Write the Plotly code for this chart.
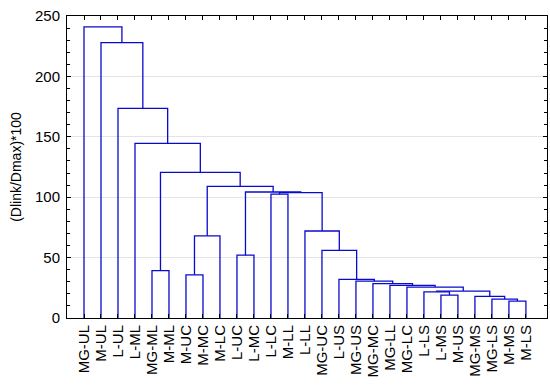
import plotly.graph_objects as go

# Leaf labels in dendrogram order
labels = ["MG-UL", "M-UL", "L-UL", "L-ML", "MG-ML", "M-ML", "M-UC", "M-MC", "M-LC",
          "L-UC", "L-MC", "L-LC", "M-LL", "L-LL", "MG-UC", "L-US", "MG-US", "MG-MC",
          "MG-LL", "MG-LC", "L-LS", "L-MS", "M-US", "MG-MS", "MG-LS", "M-MS", "M-LS"]

# Merges: new cluster name, left child, right child, linkage distance (Dlink/Dmax)*100
merge_names = ["a", "b", "c", "d", "e", "f", "g", "h", "i", "j", "k", "l", "m",
               "p1", "p2", "p3", "p4", "p5", "p6", "p7", "p8", "p9", "p10", "p11", "p12", "p13"]
merge_left = ["M-MS", "MG-LS", "MG-MS", "L-MS", "L-LS", "e", "MG-LC", "MG-LL", "MG-MC",
              "MG-US", "L-US", "MG-UC", "L-LL", "MG-ML", "M-UC", "p2", "L-UC", "L-LC",
              "p5", "p4", "p3", "p1", "L-ML", "L-UL", "M-UL", "MG-UL"]
merge_right = ["M-LS", "a", "b", "M-US", "d", "c", "f", "g", "h", "i", "j", "k", "l",
               "M-ML", "M-MC", "M-LC", "L-MC", "M-LL", "m", "p6", "p7", "p8", "p9",
               "p10", "p11", "p12"]
merge_height = [14, 15.7, 17.9, 19, 21.7, 22.3, 25.6, 27, 28.5, 30.5, 31.9, 56, 72,
                39.3, 35.7, 68, 52, 102.5, 103.8, 104.3, 109, 120.5, 144.6, 173.5, 228, 241]

y_ticks = [0, 50, 100, 150, 200, 250]

# build the link segments
pos = {name: i + 1 for i, name in enumerate(labels)}
hgt = {name: 0 for name in labels}
xs, ys = [], []
for name, a, b, h in zip(merge_names, merge_left, merge_right, merge_height):
    xs += [pos[a], pos[a], pos[b], pos[b], None]
    ys += [hgt[a], h, h, hgt[b], None]
    pos[name] = (pos[a] + pos[b]) / 2
    hgt[name] = h

fig = go.Figure()
fig.add_trace(go.Scatter(x=xs, y=ys, mode="lines",
                         line=dict(color="rgb(10,10,205)", width=1.3),
                         hoverinfo="skip", showlegend=False))

fig.update_layout(
    width=550, height=388,
    margin=dict(l=67, r=3, t=16, b=70),
    paper_bgcolor="white", plot_bgcolor="white",
    font=dict(family="Arial, Liberation Sans, sans-serif", color="black", size=14),
)
fig.update_xaxes(
    automargin=False,
    range=[0, 28.24], tickmode="array",
    tickvals=list(range(1, len(labels) + 1)), ticktext=labels,
    tickangle=-90, tickfont=dict(size=15),
    ticks="inside", ticklen=4, tickcolor="black",
    showline=True, linecolor="black", linewidth=1, mirror="ticks",
    showgrid=False, zeroline=False,
)
fig.update_yaxes(
    automargin=False,
    range=[0, 250], tickmode="array", tickvals=y_ticks,
    tickfont=dict(size=15), ticklabelstandoff=3,
    ticks="inside", ticklen=4, tickcolor="black",
    minor=dict(dtick=10, ticks="inside", ticklen=3, tickcolor="black", showgrid=False),
    showline=True, linecolor="black", linewidth=1, mirror="ticks",
    showgrid=True, gridcolor="rgb(228,228,228)", gridwidth=1,
    zeroline=False,
    title=dict(text="(Dlink/Dmax)*100", font=dict(size=14), standoff=10),
)

fig.write_html("out.html", config={"displayModeBar": False},
               post_script="document.body.style.margin='0';")
